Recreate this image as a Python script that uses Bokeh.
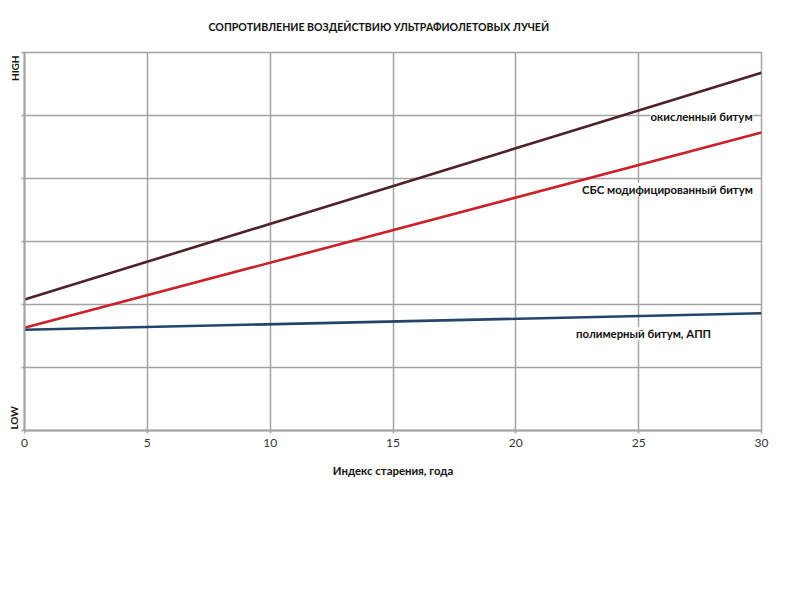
from bokeh.plotting import figure
from bokeh.models import Label, Range1d, FixedTicker
from bokeh.embed import file_html
from bokeh.resources import INLINE

# ---- data ----
years = [0, 30]
oxidized = [2.08, 5.68]
sbs = [1.63, 4.73]
app = [1.60, 1.86]

series_names = ["окисленный битум", "СБС модифицированный битум", "полимерный битум, АПП"]
series_colors = ["#4d2329", "#cc1f26", "#23456a"]
label_x = [27.56, 26.17, 25.2]
label_y = [4.98, 3.83, 1.54]

x_ticks = [0, 5, 10, 15, 20, 25, 30]
y_ticks = [0, 1, 2, 3, 4, 5, 6]
y_word_pos = [0.2, 5.75]
y_words = ["LOW", "HIGH"]

title_text = "СОПРОТИВЛЕНИЕ ВОЗДЕЙСТВИЮ УЛЬТРАФИОЛЕТОВЫХ ЛУЧЕЙ"
x_title = "Индекс старения, года"
FONT = "Lato"
GRID = "#a3a3a3"

p = figure(width=784, height=584, output_backend="svg", toolbar_location=None,
           x_range=Range1d(0, 30), y_range=Range1d(0, 6),
           min_border_left=24, min_border_right=23, min_border_top=52, min_border_bottom=154)
p.background_fill_color = "white"
p.border_fill_color = "white"
p.outline_line_color = GRID
p.outline_line_width = 1.5

p.title.text = title_text
p.title.align = "left"
p.title.vertical_align = "top"
p.title.offset = 184
p.title.standoff = 36
p.title.text_font = FONT
p.title.text_font_size = "10.6px"
p.title.text_font_style = "bold"
p.title.text_color = "#111111"

p.below[0].ticker = FixedTicker(ticks=x_ticks)
p.left[0].ticker = FixedTicker(ticks=y_word_pos, minor_ticks=y_ticks)
p.left[0].major_label_overrides = {v: w for v, w in zip(y_word_pos, y_words)}
p.xgrid.ticker = FixedTicker(ticks=x_ticks)
p.ygrid.ticker = FixedTicker(ticks=y_ticks)
p.xgrid.grid_line_color = GRID
p.ygrid.grid_line_color = GRID
p.xgrid.grid_line_width = 1.5
p.ygrid.grid_line_width = 1.5

xa = p.below[0]
ya = p.left[0]
for ax in (xa, ya):
    ax.axis_line_color = GRID
    ax.axis_line_width = 2

xa.major_tick_line_color = GRID
xa.major_tick_line_width = 1.5
xa.major_tick_out = 3
xa.major_tick_in = 0
xa.minor_tick_line_color = None

ya.major_tick_line_color = None
ya.major_tick_out = 0
ya.major_tick_in = 0
ya.minor_tick_line_color = GRID
ya.minor_tick_line_width = 1.5
ya.minor_tick_out = 3
ya.minor_tick_in = 0
ya.major_label_orientation = "vertical"
ya.major_label_standoff = 1
ya.major_label_text_font = FONT
ya.major_label_text_font_size = "10px"
ya.major_label_text_font_style = "bold"
ya.major_label_text_color = "#111111"

xa.major_label_text_font = FONT
xa.major_label_text_font_size = "12px"
xa.major_label_text_color = "#333333"
xa.major_label_standoff = 5
xa.axis_label = x_title
xa.axis_label_text_font = FONT
xa.axis_label_text_font_size = "11.4px"
xa.axis_label_text_font_style = "bold"
xa.axis_label_text_color = "#111111"
xa.axis_label_standoff = 14

series = [oxidized, sbs, app]
for vals, color in zip(series, series_colors):
    p.line(years, vals, line_color=color, line_width=2.6)

for name, lx, ly in zip(series_names, label_x, label_y):
    p.add_layout(Label(x=lx, y=ly, text=name, text_align="center", text_baseline="middle",
                       text_font=FONT, text_font_size="11.4px", text_font_style="bold",
                       text_color="#111111", background_fill_color="white"))

open("out.html", "w").write(file_html(p, INLINE))
